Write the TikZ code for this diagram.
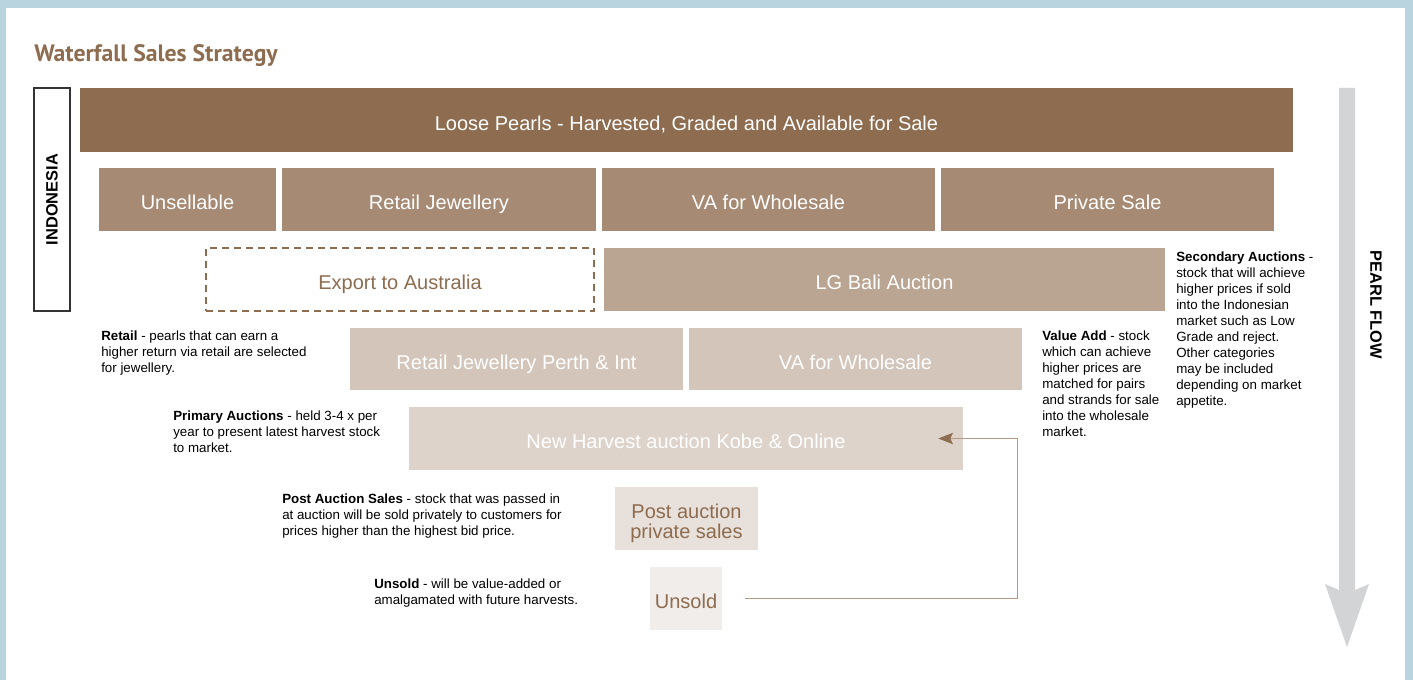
\documentclass[tikz,border=0pt]{standalone}
\usepackage{fontspec}
\setmainfont{Liberation Sans}
\newfontfamily\titlefont{PT Sans}
\usetikzlibrary{arrows.meta,fit}

\definecolor{framebg}{HTML}{B9D4DE}
\definecolor{pearlbrown}{HTML}{8D6C4F}
\definecolor{tierA}{HTML}{A68A73}
\definecolor{tierB}{HTML}{BAA592}
\definecolor{tierC}{HTML}{D3C5B9}
\definecolor{tierD}{HTML}{DDD3CA}
\definecolor{tierE}{HTML}{E8E0DA}
\definecolor{tierF}{HTML}{F1EDEA}
\definecolor{linkbrown}{HTML}{B29A84}
\definecolor{flowgray}{HTML}{D3D4D6}

\begin{document}
\begin{tikzpicture}[x=0.75pt,y=-0.75pt,
    tier/.style={inner sep=0pt},
    tiertext/.style={inner sep=0pt,text=white,text height=10.8pt,text depth=0pt,yshift=-2.3pt,font=\fontsize{15}{15}\selectfont},
    paletext/.style={tiertext,text=pearlbrown},
    note/.style={anchor=north west,align=left,inner sep=0pt,font=\fontsize{10}{12}\selectfont},
    sidetag/.style={font=\bfseries\fontsize{12.3}{14}\selectfont},
    backlink/.style={draw=linkbrown,line width=1.1pt,-{Stealth[length=11pt,width=8.5pt,inset=2pt,color=pearlbrown]}}]
    % frame
    \useasboundingbox (0,0) rectangle (1413,680);
    \fill[framebg] (0,0) rectangle (1413,680);
    \fill[white] (6,8) rectangle (1405,680);
    \node[anchor=base west,inner sep=0pt,text=pearlbrown,font=\titlefont\bfseries\fontsize{17.8}{20}\selectfont] (title) at (34,62) {Waterfall Sales Strategy};

    % side labels
    \node[draw=black!80,line width=0.8pt,inner sep=0pt,fit={(34,88) (70,311)}] (indo) {};
    \node[rotate=90,sidetag] (indo-t) at (indo.center) {INDONESIA};
    \fill[flowgray] (1339,88) -- (1355,88) -- (1355,590) -- (1369,584) -- (1347,647) -- (1325,584) -- (1339,590) -- cycle;
    \node[rotate=-90,sidetag] (flow) at (1376,305) {PEARL FLOW};

    % tiers
    \node[tier,fill=pearlbrown,fit={(80,88) (1293,152)},label={[tiertext]center:Loose Pearls - Harvested, Graded and Available for Sale}] (loose) {};
    \node[tier,fill=tierA,fit={(99,168) (276,231)},label={[tiertext]center:Unsellable}] (unsell) {};
    \node[tier,fill=tierA,fit={(282,168) (596,231)},label={[tiertext]center:Retail Jewellery}] (retail) {};
    \node[tier,fill=tierA,fit={(602,168) (935,231)},label={[tiertext]center:VA for Wholesale}] (vawhole) {};
    \node[tier,fill=tierA,fit={(941,168) (1274,231)},label={[tiertext]center:Private Sale}] (private) {};
    \node[tier,draw=pearlbrown,line width=0.8pt,dash pattern=on 5pt off 4pt,fit={(206,248) (594,311)},label={[paletext]center:Export to Australia}] (export) {};
    \node[tier,fill=tierB,fit={(604,248) (1165,311)},label={[tiertext]center:LG Bali Auction}] (bali) {};
    \node[tier,fill=tierC,fit={(350,328) (683,390)},label={[tiertext]center:Retail Jewellery Perth \& Int}] (perth) {};
    \node[tier,fill=tierC,fit={(689,328) (1022,390)},label={[tiertext]center:VA for Wholesale}] (vawhole2) {};
    \node[tier,fill=tierD,fit={(409,407) (963,470)},label={[tiertext]center:New Harvest auction Kobe \& Online}] (kobe) {};
    \node[tier,fill=tierE,fit={(615,487) (758,550)},label={[inner sep=0pt,text=pearlbrown,align=center,yshift=-3.6pt,font=\fontsize{15}{14.5}\selectfont]center:Post auction\\private sales}] (postsale) {};
    \node[tier,fill=tierF,fit={(650,567) (722,630)},label={[paletext]center:Unsold}] (unsold) {};

    \draw[backlink] ([shift={(23,0)}]unsold.east) -- ++(272,0) |- ([shift={(-25,0)}]kobe.east);

    % notes
    \node[note] (n-second) at (1176,252) {\textbf{Secondary Auctions} -\\stock that will achieve\\higher prices if sold\\into the Indonesian\\market such as Low\\Grade and reject.\\Other categories\\may be included\\depending on market\\appetite.};
    \node[note] (n-value) at (1042,331) {\textbf{Value Add} - stock\\which can achieve\\higher prices are\\matched for pairs\\and strands for sale\\into the wholesale\\market.};
    \node[note] (n-retail) at (101,331) {\textbf{Retail} - pearls that can earn a\\higher return via retail are selected\\for jewellery.};
    \node[note] (n-primary) at (173,411) {\textbf{Primary Auctions} - held 3-4 x per\\year to present latest harvest stock\\to market.};
    \node[note] (n-post) at (282,494) {\textbf{Post Auction Sales} - stock that was passed in\\at auction will be sold privately to customers for\\prices higher than the highest bid price.};
    \node[note] (n-unsold) at (374,579) {\textbf{Unsold} - will be value-added or\\amalgamated with future harvests.};
\end{tikzpicture}
\end{document}
